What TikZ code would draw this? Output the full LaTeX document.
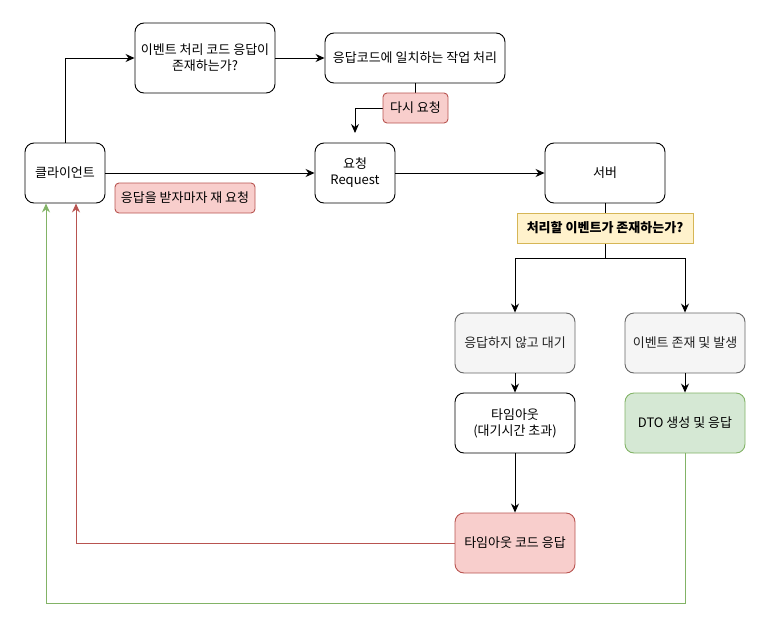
\documentclass[tikz,border=0pt]{standalone}
\usepackage{fontspec}
\setmainfont{Noto Sans CJK KR}
\usetikzlibrary{arrows.meta}
\definecolor{pinkF}{HTML}{F8CECC}
\definecolor{pinkD}{HTML}{B85450}
\definecolor{greenF}{HTML}{D5E8D4}
\definecolor{greenD}{HTML}{82B366}
\definecolor{yellowF}{HTML}{FFF2CC}
\definecolor{yellowD}{HTML}{D6B656}
\definecolor{grayF}{HTML}{F5F5F5}
\definecolor{grayD}{HTML}{666666}
\definecolor{grayT}{HTML}{222222}
\begin{document}
\begin{tikzpicture}[x=1pt,y=-1pt,
  font=\fontsize{13}{16}\selectfont,
  box/.style={draw=black, line width=0.9pt, rounded corners=9pt, align=center, inner sep=2pt, fill=white},
  graybox/.style={box, draw=grayD, fill=grayF, text=grayT},
  greenbox/.style={box, draw=greenD, fill=greenF},
  pinkbox/.style={box, draw=pinkD, fill=pinkF},
  pinklabel/.style={draw=pinkD, fill=pinkF, line width=0.9pt, rounded corners=4pt, inner sep=2pt},
  yellowlabel/.style={draw=yellowD, fill=yellowF, line width=0.9pt, inner sep=2pt},
  arr/.style={line width=0.9pt, -{Stealth[length=9pt,width=8pt,inset=3pt]}},
  ln/.style={line width=0.9pt}]
\useasboundingbox (0,0) rectangle (768,624);

\node[box, minimum width=80, minimum height=60] (client) at (65,173) {클라이언트};
\node[box, minimum width=140, minimum height=70] (q1) at (205,58) {이벤트 처리 코드 응답이\\존재하는가?};
\node[box, minimum width=180, minimum height=50] (proc) at (415,58) {응답코드에 일치하는 작업 처리};
\node[box, minimum width=80, minimum height=60] (req) at (355,173) {요청\\Request};
\node[box, minimum width=120, minimum height=60] (server) at (605,173) {서버};

\node[graybox, minimum width=120, minimum height=60] (wait) at (515,343) {응답하지 않고 대기};
\node[graybox, minimum width=120, minimum height=60] (event) at (685,343) {이벤트 존재 및 발생};
\node[box, minimum width=120, minimum height=60] (timeout) at (515,423) {타임아웃\\(대기시간 초과)};
\node[greenbox, minimum width=120, minimum height=60] (dto) at (685,423) {DTO 생성 및 응답};
\node[pinkbox, minimum width=120, minimum height=60] (tcode) at (515,543) {타임아웃 코드 응답};

% edges
\draw[arr] (client.north) |- (q1.west);
\draw[arr] (q1) -- (proc);
\coordinate (againend) at (355,133);
\coordinate (againbend) at (415,108);
\draw[arr] (proc.south) -- (againbend) -| (againend);
\node[pinklabel, minimum width=65, minimum height=30] (again) at (415.5,108) {다시 요청};
\draw[arr] (client) -- (req);
\draw[arr] (req) -- (server);
\coordinate (split) at (605,258);
\draw[ln] (server.south) -- (split);
\draw[arr] (split) -| (wait.north);
\draw[arr] (split) -| (event.north);
\node[yellowlabel, minimum width=176, minimum height=30] (exist) at (605,228) {\bfseries 처리할 이벤트가 존재하는가?};
\node[pinklabel, minimum width=140, minimum height=30] (retry) at (185,198) {응답을 받자마자 재 요청};
\draw[arr] (wait) -- (timeout);
\draw[arr] (event) -- (dto);
\draw[arr] (timeout) -- (tcode);
\draw[arr, draw=pinkD] (tcode.west) -| ([xshift=11]client.south);
\coordinate (gcorner) at (685,603);
\draw[arr, draw=greenD] (dto.south) -- (gcorner) -| ([xshift=-19]client.south);
\end{tikzpicture}
\end{document}
